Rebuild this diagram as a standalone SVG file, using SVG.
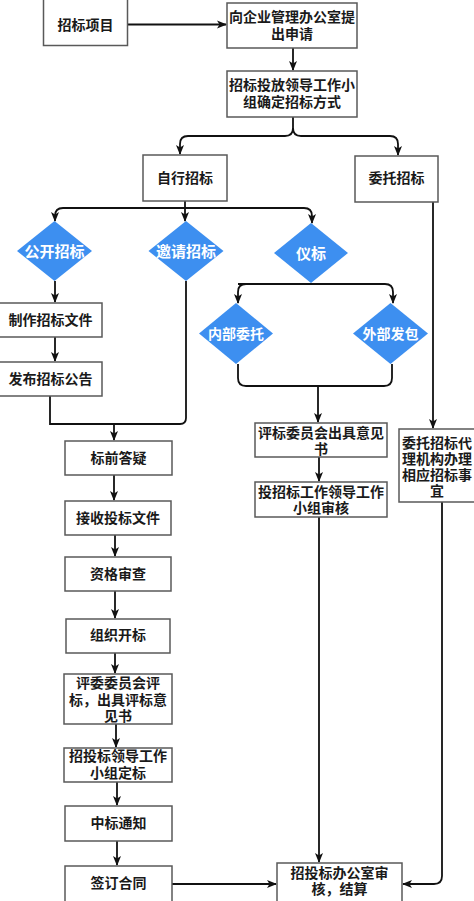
<svg xmlns="http://www.w3.org/2000/svg" width="474" height="901" viewBox="0 0 474 901">
<style>
.box{fill:#fff;stroke:#595959;stroke-width:1.5}
.dia{fill:#3d8ff0;stroke:none}
.t{font-family:"Noto Sans CJK SC","Noto Sans",sans-serif;font-weight:bold;font-size:14px;fill:#1a1a1a;text-anchor:middle}
.w{font-family:"Noto Sans CJK SC","Noto Sans",sans-serif;font-weight:bold;font-size:15px;fill:#fff;text-anchor:middle}
.c{fill:none;stroke:#111;stroke-width:1.8}
</style>
<defs>
<marker id="ah" markerUnits="userSpaceOnUse" markerWidth="10" markerHeight="10" viewBox="0 0 10 10" refX="9" refY="5" orient="auto">
<path d="M0,1 L10,5 L0,9 L2.5,5 Z" fill="#111"/>
</marker>
</defs>
<rect width="474" height="901" fill="#fff"/>
<g id="connectors">
<path class="c" d="M127,24.5 H226" marker-end="url(#ah)"/>
<path class="c" d="M293,48 V70" marker-end="url(#ah)"/>
<path class="c" d="M293,117 V128 Q293,136 285,136 H188 Q180,136 180,144 V154" marker-end="url(#ah)"/>
<path class="c" d="M293,128 Q293,136 301,136 H390 Q398,136 398,144 V155" marker-end="url(#ah)"/>
<path class="c" d="M185,201 V221" marker-end="url(#ah)"/>
<path class="c" d="M185,208 H63 Q55,208 55,216 V221" marker-end="url(#ah)"/>
<path class="c" d="M185,208 H304 Q312,208 312,216 V223" marker-end="url(#ah)"/>
<path class="c" d="M55,281 V302" marker-end="url(#ah)"/>
<path class="c" d="M55,337 V361" marker-end="url(#ah)"/>
<path class="c" d="M50,396 V424 H180 Q186,424 186,418 V281"/>
<path class="c" d="M114,424 V440" marker-end="url(#ah)"/>
<path class="c" d="M311,283 V284 M238,284 H385"/>
<path class="c" d="M246,284 Q238,284 238,292 V303" marker-end="url(#ah)"/>
<path class="c" d="M385,284 Q393,284 393,292 V303" marker-end="url(#ah)"/>
<path class="c" d="M238,364 V378 Q238,386 246,386 H384 Q392,386 392,378 V364"/>
<path class="c" d="M318,386 V422" marker-end="url(#ah)"/>
<path class="c" d="M433,202 V428" marker-end="url(#ah)"/>
<path class="c" d="M319,457 V481" marker-end="url(#ah)"/>
<path class="c" d="M319,517 V862" marker-end="url(#ah)"/>
<path class="c" d="M442,502 V876 Q442,884 434,884 H403" marker-end="url(#ah)"/>
<path class="c" d="M172,884 H276" marker-end="url(#ah)"/>
<path class="c" d="M114,475 V500" marker-end="url(#ah)"/>
<path class="c" d="M115,535 V556" marker-end="url(#ah)"/>
<path class="c" d="M115,591 V618" marker-end="url(#ah)"/>
<path class="c" d="M115,653 V673" marker-end="url(#ah)"/>
<path class="c" d="M116,724 V747" marker-end="url(#ah)"/>
<path class="c" d="M117,782 V805" marker-end="url(#ah)"/>
<path class="c" d="M117,841 V865" marker-end="url(#ah)"/>
</g>
<g id="n1"><rect class="box" x="43.5" y="-2" width="84" height="47.5"/><text class="t" x="85.5" y="29.5">招标项目</text></g>
<g id="n2"><rect class="box" x="227" y="3" width="130" height="45"/><text class="t" x="292" y="22">向企业管理办公室提</text><text class="t" x="292" y="38.5">出申请</text></g>
<g id="n3"><rect class="box" x="227" y="71" width="130" height="46"/><text class="t" x="292" y="90">招标投放领导工作小</text><text class="t" x="292" y="107">组确定招标方式</text></g>
<g id="n4"><rect class="box" x="143" y="155" width="84" height="46"/><text class="t" x="185" y="183">自行招标</text></g>
<g id="n5"><rect class="box" x="355" y="156" width="83" height="46"/><text class="t" x="396.5" y="183">委托招标</text></g>
<g id="d1"><path class="dia" d="M54.5,221 L92,251 L54.5,281 L17,251 Z"/><text class="w" x="54.5" y="256.5">公开招标</text></g>
<g id="d2"><path class="dia" d="M186,221 L223.5,251 L186,281 L148.5,251 Z"/><text class="w" x="186" y="256.5">邀请招标</text></g>
<g id="d3"><path class="dia" d="M311,223 L348,253 L311,283 L274,253 Z"/><text class="w" x="311" y="258.5">仪标</text></g>
<g id="n6"><rect class="box" x="-1" y="303" width="103" height="34"/><text class="t" x="50.5" y="325">制作招标文件</text></g>
<g id="n7"><rect class="box" x="-1" y="362" width="103" height="34"/><text class="t" x="50.5" y="383.5">发布招标公告</text></g>
<g id="d4"><path class="dia" d="M236,303 L273,333.5 L236,364 L199,333.5 Z"/><text class="w" x="236" y="339" style="font-size:14px">内部委托</text></g>
<g id="d5"><path class="dia" d="M390.5,303 L428,333.5 L390.5,364 L353,333.5 Z"/><text class="w" x="390.5" y="339" style="font-size:14px">外部发包</text></g>
<g id="n8"><rect class="box" x="255" y="423" width="132" height="34"/><text class="t" x="321" y="437.5">评标委员会出具意见</text><text class="t" x="321" y="453.5">书</text></g>
<g id="n9"><rect class="box" x="399" y="429" width="76" height="73"/><text class="t" x="437" y="448">委托招标代</text><text class="t" x="437" y="464">理机构办理</text><text class="t" x="437" y="480">相应招标事</text><text class="t" x="437" y="496">宜</text></g>
<g id="n10"><rect class="box" x="65" y="441" width="107" height="34"/><text class="t" x="118.5" y="463">标前答疑</text></g>
<g id="n11"><rect class="box" x="255" y="482" width="132" height="35"/><text class="t" x="321" y="496.5">投招标工作领导工作</text><text class="t" x="321" y="512.5">小组审核</text></g>
<g id="n12"><rect class="box" x="65" y="501" width="106" height="34"/><text class="t" x="118" y="523">接收投标文件</text></g>
<g id="n13"><rect class="box" x="65" y="557" width="106" height="34"/><text class="t" x="118" y="579">资格审查</text></g>
<g id="n14"><rect class="box" x="66" y="619" width="104" height="34"/><text class="t" x="118" y="640">组织开标</text></g>
<g id="n15"><rect class="box" x="64" y="674" width="108" height="50"/><text class="t" x="118" y="688">评委委员会评</text><text class="t" x="118" y="704.5">标，出具评标意</text><text class="t" x="118" y="721">见书</text></g>
<g id="n16"><rect class="box" x="64" y="748" width="108" height="34"/><text class="t" x="118" y="761">招投标领导工作</text><text class="t" x="118" y="777.5">小组定标</text></g>
<g id="n17"><rect class="box" x="65" y="806" width="107" height="35"/><text class="t" x="118.5" y="828">中标通知</text></g>
<g id="n18"><rect class="box" x="65" y="866" width="107" height="40"/><text class="t" x="118.5" y="888">签订合同</text></g>
<g id="n19"><rect class="box" x="277" y="863" width="125" height="45"/><text class="t" x="339.5" y="877.5">招投标办公室审</text><text class="t" x="339.5" y="893.5">核，结算</text></g>
</svg>
